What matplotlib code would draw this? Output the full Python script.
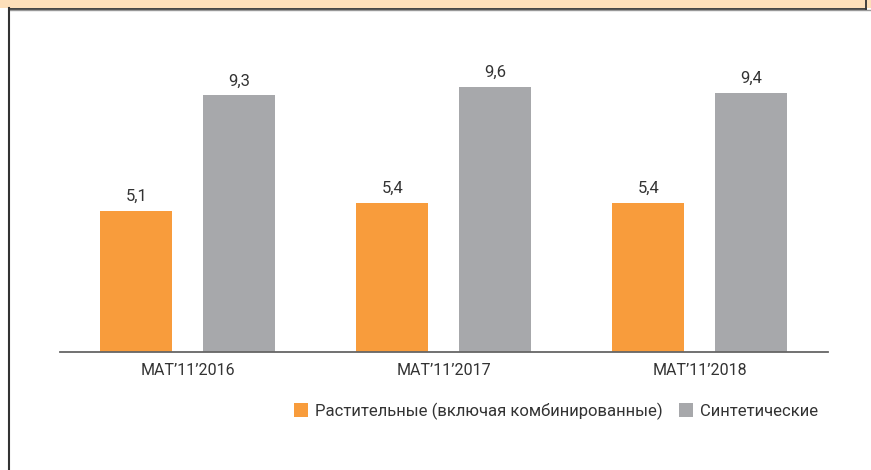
import numpy as np
import matplotlib.pyplot as plt
from matplotlib.patches import Rectangle
from matplotlib.lines import Line2D

plt.rcParams['font.family'] = ['Roboto', 'DejaVu Sans']

# data
periods = ["MAT’11’2016", "MAT’11’2017", "MAT’11’2018"]
plant = [5.1, 5.4, 5.4]
synthetic = [9.3, 9.6, 9.4]
series_names = ["Растительные (включая комбинированные)", "Синтетические"]

orange = '#F89C3C'
grey = '#A7A8AB'
txt = '#333333'

W, H = 871, 470
fig = plt.figure(figsize=(W / 100, H / 100), dpi=100)

# header band and frame lines
fig.add_artist(Rectangle((0, 1 - 8 / H), 1, 8 / H, transform=fig.transFigure,
                         facecolor='#FDDFBA', edgecolor='none'))
fig.add_artist(Line2D([9 / W, 866 / W], [1 - 8.5 / H, 1 - 8.5 / H], transform=fig.transFigure,
                      color='#333333', lw=1.3))
fig.add_artist(Line2D([9 / W, 1], [1 - 10 / H, 1 - 10 / H], transform=fig.transFigure,
                      color='#999999', lw=1))
fig.add_artist(Line2D([8.5 / W, 8.5 / W], [0, 1 - 8 / H], transform=fig.transFigure,
                      color='#333333', lw=1.5))
fig.add_artist(Line2D([866 / W, 866 / W], [1 - 9 / H, 1], transform=fig.transFigure,
                      color='#333333', lw=1.3))

ax = fig.add_axes([60 / W, 118 / H, 768 / W, 303.6 / H])
x = np.arange(len(periods))
w = 0.281
b1 = ax.bar(x - 0.202, plant, w, color=orange, label=series_names[0])
b2 = ax.bar(x + 0.2, synthetic, w, color=grey, label=series_names[1])

for bars, vals in ((b1, plant), (b2, synthetic)):
    for r, v in zip(bars, vals):
        ax.annotate(f"{v:.1f}".replace('.', ','), (r.get_x() + r.get_width() / 2, v),
                    xytext=(0, 5), textcoords='offset points', ha='center', va='bottom',
                    fontsize=12, color=txt)

ax.set_xlim(-0.5, 2.5)
ax.set_ylim(0, 11)
ax.set_xticks(x)
ax.set_xticklabels(periods, fontsize=11.5, color=txt)
ax.tick_params(axis='x', length=0, pad=8)
ax.set_yticks([])
for s in ['top', 'right', 'left']:
    ax.spines[s].set_visible(False)
ax.spines['bottom'].set_color('#666666')
ax.spines['bottom'].set_linewidth(1.3)

leg = fig.legend(loc='center', bbox_to_anchor=(556 / W, 1 - 411 / H), ncol=2, frameon=False,
                 fontsize=12, handlelength=0.85, handleheight=0.85, handletextpad=0.4,
                 columnspacing=1.0, labelcolor=txt)

fig.savefig('out.png', dpi=100)
